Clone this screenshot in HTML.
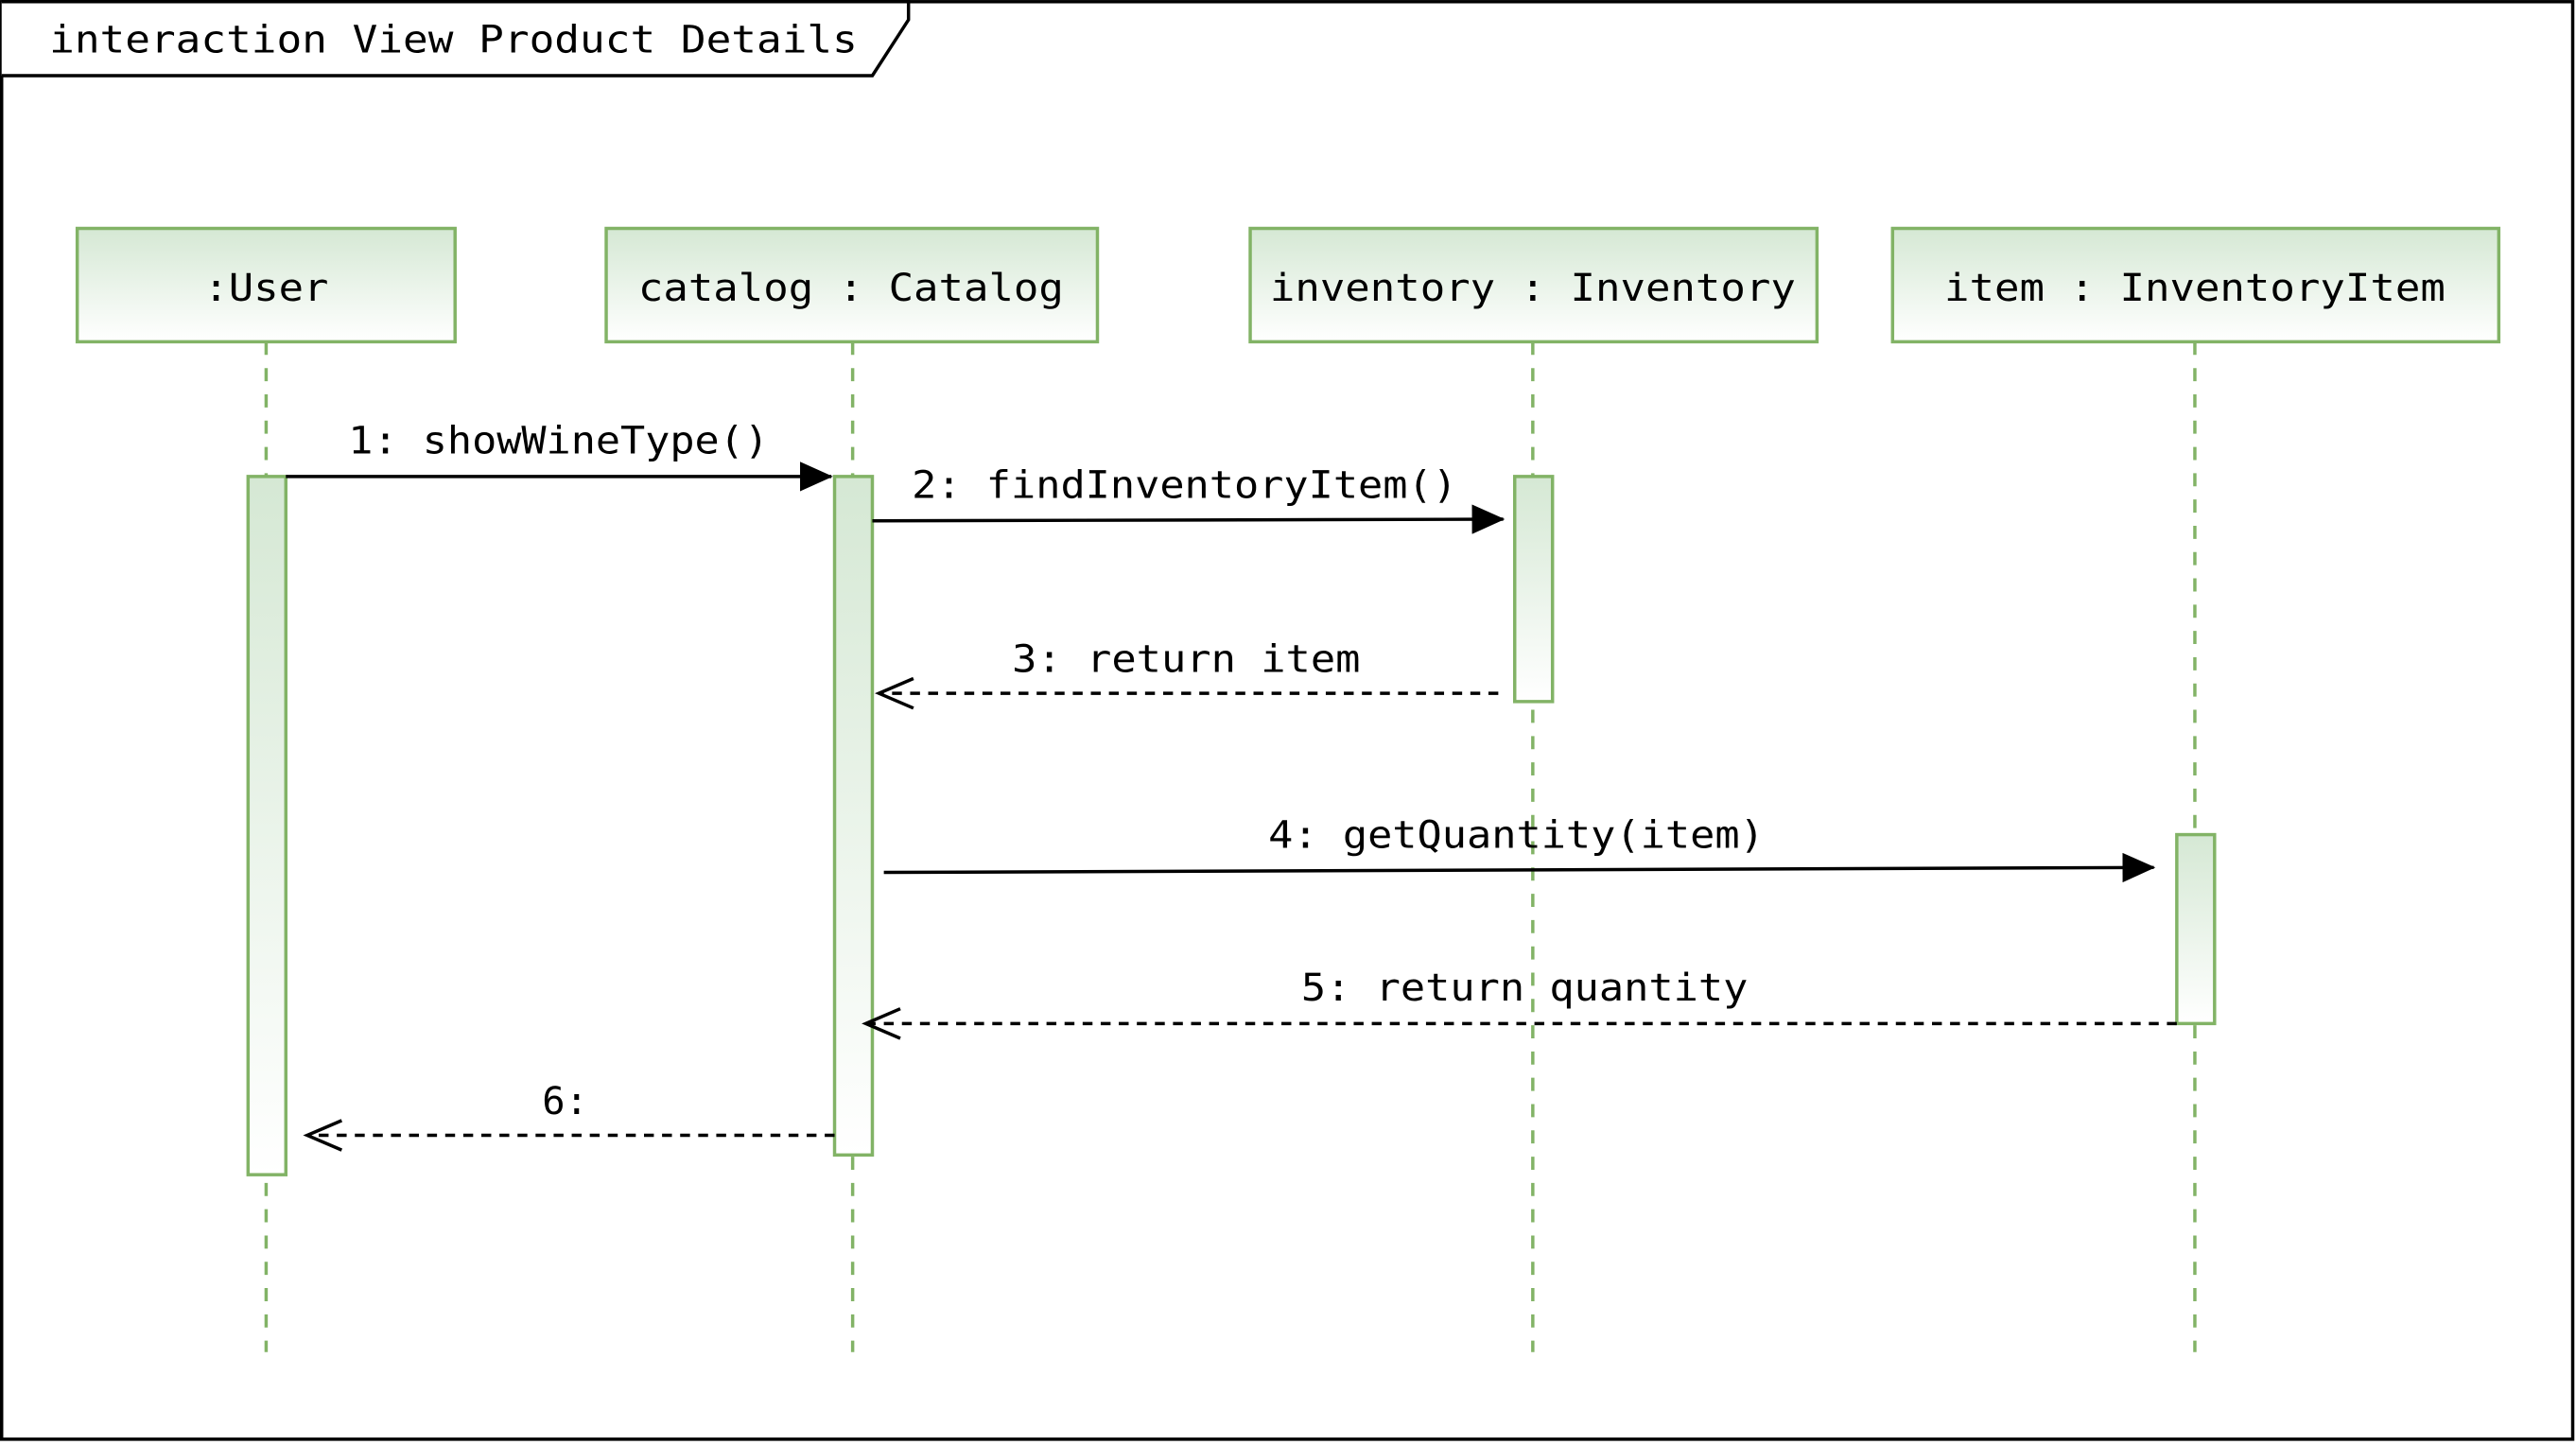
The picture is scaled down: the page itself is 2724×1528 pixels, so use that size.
<!DOCTYPE html>
<html><head><meta charset="utf-8"><style>
html,body{margin:0;padding:0;background:#fff;}
svg{display:block;}
text{font-family:"DejaVu Sans Mono","Liberation Mono",monospace;font-size:23px;fill:#000;}
</style></head><body>
<svg width="2724" height="1528" viewBox="0 0 1568 879.5" xmlns="http://www.w3.org/2000/svg">
<defs>
<linearGradient id="g" x1="0" y1="0" x2="0" y2="1">
<stop offset="0" stop-color="#d5e8d4"/><stop offset="1" stop-color="#ffffff"/>
</linearGradient>
<marker id="fa" markerWidth="20" markerHeight="18" refX="19" refY="9" orient="auto" markerUnits="userSpaceOnUse">
<path d="M0,0 L20,9 L0,18 Z" fill="#000"/></marker>
</defs>
<rect x="1" y="1" width="1565" height="875" fill="#fff" stroke="#000" stroke-width="2"/>
<path d="M1,1 L553,1 L553,12 L531,46 L1,46" fill="#fff" stroke="#000" stroke-width="2"/>
<text x="30" y="32" textLength="492" lengthAdjust="spacingAndGlyphs">interaction View Product Details</text>

<g stroke="#82b366" stroke-width="2" stroke-dasharray="8,8" fill="none">
<line x1="162" y1="208" x2="162" y2="823"/>
<line x1="519" y1="208" x2="519" y2="823"/>
<line x1="933" y1="208" x2="933" y2="823"/>
<line x1="1336" y1="208" x2="1336" y2="823"/>
</g>
<g fill="url(#g)" stroke="#82b366" stroke-width="2">
<rect x="47" y="139" width="230" height="69"/>
<rect x="369" y="139" width="299" height="69"/>
<rect x="761" y="139" width="345" height="69"/>
<rect x="1152" y="139" width="369" height="69"/>
<rect x="151" y="290" width="23" height="425"/>
<rect x="508" y="290" width="23" height="413"/>
<rect x="922" y="290" width="23" height="137"/>
<rect x="1325" y="508" width="23" height="115"/>
</g>
<text x="162" y="183" text-anchor="middle" textLength="76" lengthAdjust="spacingAndGlyphs">:User</text>
<text x="518" y="183" text-anchor="middle" textLength="259" lengthAdjust="spacingAndGlyphs">catalog : Catalog</text>
<text x="933" y="183" text-anchor="middle" textLength="320" lengthAdjust="spacingAndGlyphs">inventory : Inventory</text>
<text x="1336" y="183" text-anchor="middle" textLength="305" lengthAdjust="spacingAndGlyphs">item : InventoryItem</text>

<g stroke="#000" stroke-width="2" fill="none">
<line x1="174" y1="290" x2="506" y2="290" marker-end="url(#fa)"/>
<line x1="531" y1="317" x2="915" y2="316" marker-end="url(#fa)"/>
<line x1="538" y1="531" x2="1311" y2="528" marker-end="url(#fa)"/>
<g stroke-dasharray="6,5">
<line x1="912" y1="422" x2="536" y2="422"/>
<line x1="1325" y1="623" x2="528" y2="623"/>
<line x1="508" y1="691" x2="189" y2="691"/>
</g>
<path d="M556,413 L535,422 L556,431"/>
<path d="M548,614 L527,623 L548,632"/>
<path d="M208,682 L187,691 L208,700"/>
</g>
<text x="340" y="276" text-anchor="middle" textLength="256" lengthAdjust="spacingAndGlyphs">1: showWineType()</text>
<text x="721" y="303" text-anchor="middle" textLength="332" lengthAdjust="spacingAndGlyphs">2: findInventoryItem()</text>
<text x="722" y="409" text-anchor="middle" textLength="212" lengthAdjust="spacingAndGlyphs">3: return item</text>
<text x="923" y="516" text-anchor="middle" textLength="302" lengthAdjust="spacingAndGlyphs">4: getQuantity(item)</text>
<text x="928" y="609" text-anchor="middle" textLength="272" lengthAdjust="spacingAndGlyphs">5: return quantity</text>
<text x="344" y="678" text-anchor="middle" textLength="28" lengthAdjust="spacingAndGlyphs">6:</text>
</svg>
</body></html>
